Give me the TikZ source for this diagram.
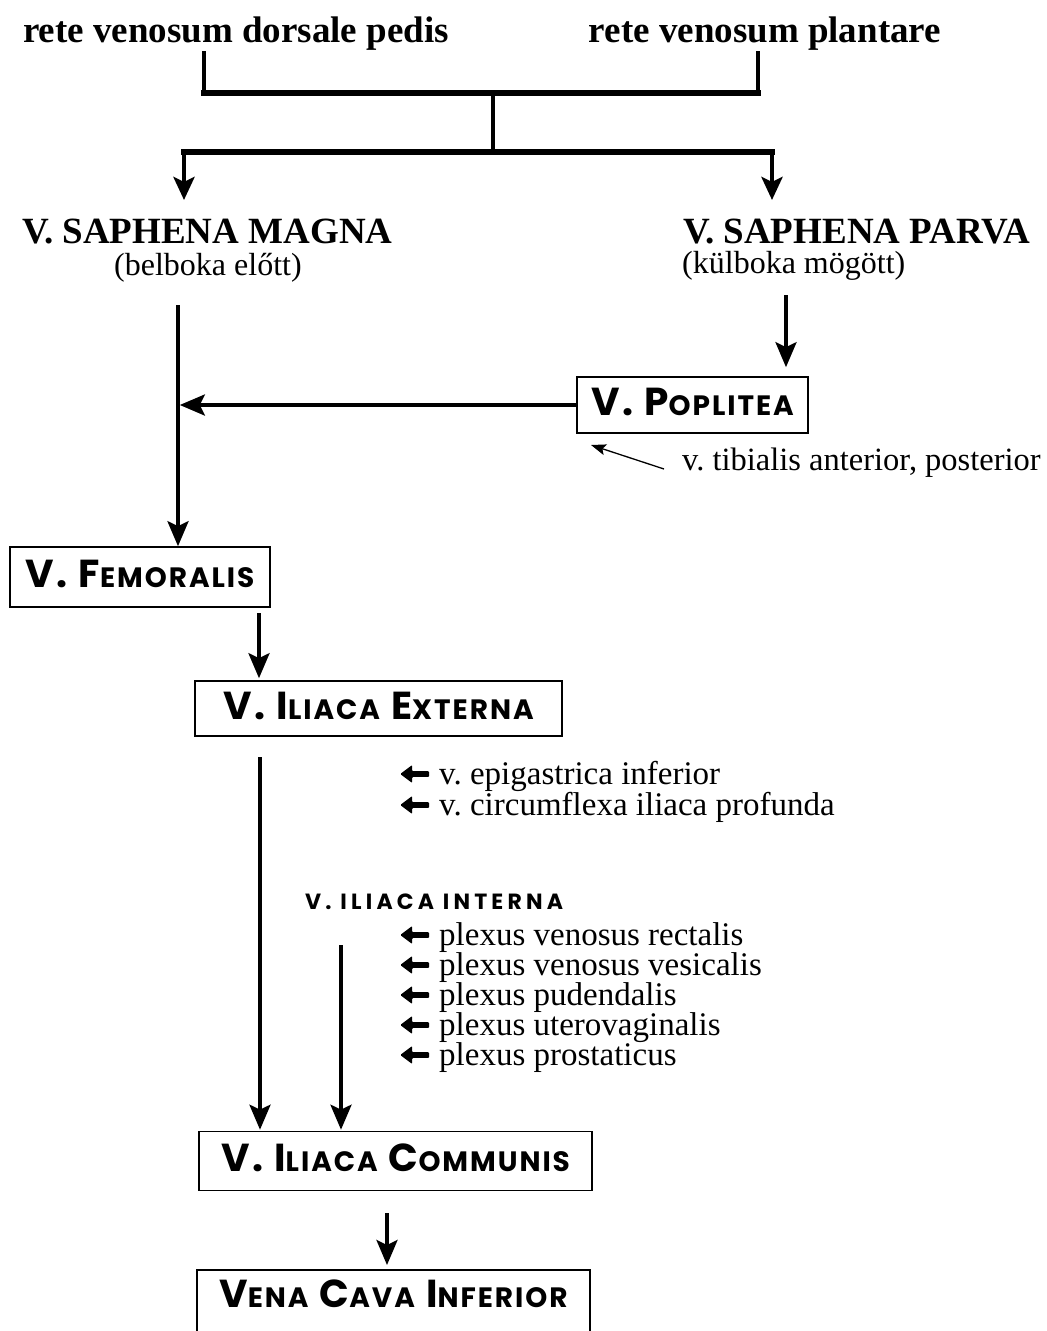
\documentclass[tikz,border=0pt]{standalone}
\usepackage{fontspec}
\setmainfont{Liberation Serif}
\newfontfamily\boxfont{Poppins}[LetterSpace=7]
\newfontfamily\labfont{Poppins}[LetterSpace=19]
\usetikzlibrary{arrows.meta}
\frenchspacing

% hand-made small capitals for the vein names
\newcommand\Bc[1]{{\fontsize{39}{44}\selectfont #1}}
\newcommand\Sc[1]{{\fontsize{28}{32}\selectfont #1}}
% heavy left arrow used in the tributary lists
\newcommand\larr{\tikz[baseline=-10pt]\fill[rounded corners=1pt]
  (0pt,0pt) -- (12pt,9pt) -- (12pt,2.8pt) -- (29pt,2.8pt) -- (29pt,-2.8pt)
  -- (12pt,-2.8pt) -- (12pt,-9pt) -- cycle;}

\tikzset{
  vbox/.style={draw, line width=1.6pt, inner sep=0pt,
               font=\boxfont\bfseries\fontsize{39}{44}\selectfont,
               text height=27pt, text depth=6pt},
  bar/.style={line width=6pt, line cap=rect},
  stem/.style={line width=4.5pt, line cap=rect},
  flowtop/.style={line width=4.5pt, -{Stealth[length=23pt,width=21pt,inset=5pt]}},
  flow/.style={line width=3.6pt, -{Stealth[length=25pt,width=21pt,inset=5pt]}},
  thinarr/.style={line width=1.3pt, -{Stealth[length=15pt,width=11pt,inset=3pt]}},
  head/.style={inner sep=0pt, anchor=base, font=\fontsize{37}{44}\selectfont\bfseries},
  note/.style={inner sep=0pt, anchor=base west, font=\fontsize{32}{38}\selectfont},
  trib/.style={inner sep=0pt, anchor=base west, font=\fontsize{33}{38}\selectfont},
}

\begin{document}
\begin{tikzpicture}[x=1pt,y=-1pt]
\useasboundingbox (0,0) rectangle (1047,1331);

% foot networks
\node[head] (rvd) at (236,42) {rete venosum dorsale pedis};
\node[head] (rvp) at (765,42) {rete venosum plantare};

\coordinate (dL) at (204,53);
\coordinate (dR) at (758,53);
\coordinate (jM) at (493,93);
\coordinate (sM) at (493,152);
\coordinate (sL) at (184,152);
\coordinate (sR) at (772,152);
\coordinate (tL) at (184,200);
\coordinate (tR) at (772,200);

\draw[stem] (dL) -- (dL |- jM);
\draw[stem] (dR) -- (dR |- jM);
\draw[bar] (dL |- jM) -- (dR |- jM);
\draw[stem] (jM) -- (sM);
\draw[bar] (sL) -- (sR);
\draw[flowtop] (sL) -- (tL);
\draw[flowtop] (sR) -- (tR);

% saphenous veins
\node[head, anchor=base west] (magna) at (22,243) {V. SAPHENA MAGNA};
\node[note] (magnab) at (114,275) {(belboka előtt)};
\node[head, anchor=base west] (parva) at (683,243) {V. SAPHENA PARVA};
\node[note] (parvab) at (682,273) {(külboka mögött)};

% vein boxes
\node[vbox, minimum width=231pt, minimum height=56pt] (pop) at (692.5,405)
  {\Bc{V. P}\Sc{OPLITEA}};
\node[vbox, minimum width=260pt, minimum height=60pt] (fem) at (140,577)
  {\Bc{V. F}\Sc{EMORALIS}};
\node[vbox, minimum width=367pt, minimum height=55pt] (ext) at (378.5,708.5)
  {\Bc{V. I}\Sc{LIACA} \Bc{E}\Sc{XTERNA}};
\node[vbox, minimum width=393pt, minimum height=59pt] (com) at (395.5,1161)
  {\Bc{V. I}\Sc{LIACA} \Bc{C}\Sc{OMMUNIS}};
\node[vbox, minimum width=393pt, inner ysep=11pt, text depth=60pt, anchor=north] (vci) at (393.5,1269)
  {\Bc{V}\Sc{ENA} \Bc{C}\Sc{AVA} \Bc{I}\Sc{NFERIOR}};

% tributaries
\node[trib, font=\fontsize{32.5}{38}\selectfont] (tib) at (682,470) {v. tibialis anterior, posterior};
\coordinate (tbs) at (664,469);
\coordinate (tbe) at (591,445);
\draw[thinarr] (tbs) -- (tbe);

\node[trib] (epi) at (400,784) {\larr\hspace{10pt}v. epigastrica inferior};
\node[trib] (cir) at (400,815) {\larr\hspace{10pt}v. circumflexa iliaca profunda};

\node[inner sep=0pt, anchor=base west, font=\labfont\bfseries\fontsize{22}{26}\selectfont] (int) at (305,909) {V. ILIACA INTERNA};
\node[trib] (p1) at (400,945) {\larr\hspace{10pt}plexus venosus rectalis};
\node[trib] (p2) at (400,975) {\larr\hspace{10pt}plexus venosus vesicalis};
\node[trib] (p3) at (400,1005) {\larr\hspace{10pt}plexus pudendalis};
\node[trib] (p4) at (400,1035) {\larr\hspace{10pt}plexus uterovaginalis};
\node[trib] (p5) at (400,1065) {\larr\hspace{10pt}plexus prostaticus};

% drainage
\coordinate (ml) at (178,305);
\coordinate (pr) at (786,295);
\coordinate (fe) at (259,613);
\coordinate (ec) at (260,757);
\coordinate (ic) at (341,945);
\coordinate (cv) at (387,1213);

\draw[flow] (ml) -- (ml |- fem.north);
\draw[flow, shorten >=1.8pt] (pop.west) -- (ml |- pop.west);
\draw[flow, shorten >=9pt] (pr) -- (pr |- pop.north);
\draw[flow, shorten >=2pt] (fe) -- (fe |- ext.north);
\draw[flow, shorten >=1pt] (ec) -- (ec |- com.north);
\draw[flow, shorten >=1pt] (ic) -- (ic |- com.north);
\draw[flow, shorten >=4pt] (cv) -- (cv |- vci.north);
\end{tikzpicture}
\end{document}
